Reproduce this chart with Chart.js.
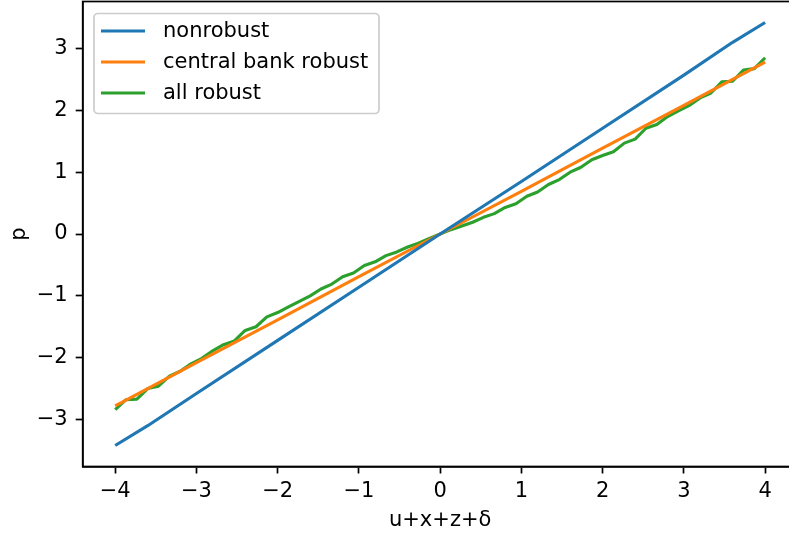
<!DOCTYPE html>
<html>
<head>
<meta charset="utf-8">
<script src="https://cdn.jsdelivr.net/npm/chart.js@4"></script>
<style>
  html, body { margin: 0; padding: 0; background: #fff; overflow: hidden; }
  #wrap { width: 800px; height: 535px; }
</style>
</head>
<body>
<div id="wrap"><canvas id="chart" width="800" height="535"></canvas></div>
<script>
// --- data ---
var gridX = [-4, -3.867, -3.733, -3.6, -3.467, -3.333, -3.2, -3.067, -2.933, -2.8,
  -2.667, -2.533, -2.4, -2.267, -2.133, -2, -1.867, -1.733, -1.6, -1.467,
  -1.333, -1.2, -1.067, -0.933, -0.8, -0.667, -0.533, -0.4, -0.267, -0.133,
  0, 0.133, 0.267, 0.4, 0.533, 0.667, 0.8, 0.933, 1.067, 1.2,
  1.333, 1.467, 1.6, 1.733, 1.867, 2, 2.133, 2.267, 2.4, 2.533,
  2.667, 2.8, 2.933, 3.067, 3.2, 3.333, 3.467, 3.6, 3.733, 3.867, 4];

var allRobust = [-2.84, -2.68, -2.67, -2.50, -2.46, -2.30, -2.22, -2.10, -2.01, -1.89,
  -1.79, -1.73, -1.56, -1.50, -1.34, -1.27, -1.18, -1.09, -1.00, -0.89,
  -0.81, -0.69, -0.63, -0.51, -0.45, -0.35, -0.29, -0.21, -0.15, -0.07,
  0.00, 0.07, 0.13, 0.19, 0.27, 0.33, 0.43, 0.49, 0.61, 0.68,
  0.80, 0.88, 1.00, 1.08, 1.20, 1.27, 1.33, 1.47, 1.535, 1.71,
  1.77, 1.90, 1.99, 2.08, 2.20, 2.28, 2.46, 2.47, 2.65, 2.675, 2.85];

var lineX = [-4, -3.6, -3, -2, -1, 0, 1, 2, 3, 3.6, 4];
var nonrobust = [-3.42, -3.10, -2.58, -1.72, -0.86, 0, 0.85, 1.71, 2.57, 3.10, 3.42];
var centralBankRobust = [-2.78, -2.50, -2.08, -1.39, -0.69, 0, 0.69, 1.39, 2.08, 2.50, 2.78];

var seriesNames = ['nonrobust', 'central bank robust', 'all robust'];
var xTicks = [-4, -3, -2, -1, 0, 1, 2, 3, 4];
var yTicks = [-3, -2, -1, 0, 1, 2, 3];

// --- helpers ---
function pairs(xs, ys) {
  return xs.map(function (x, i) { return { x: x, y: ys[i] }; });
}
function fmt(v) {
  return v < 0 ? '\u2212' + Math.abs(v) : String(v);
}

var FONT = 'DejaVu Sans';
var FS = 21;
var colors = ['#1f77b4', '#ff7f0e', '#2ca02c'];

// full box around the plot (matplotlib spines)
var frame = {
  id: 'frame',
  afterDraw: function (chart) {
    var a = chart.chartArea, c = chart.ctx;
    c.save();
    c.strokeStyle = '#000';
    c.lineWidth = 1.7;
    c.strokeRect(a.left, a.top, a.right - a.left, a.bottom - a.top);
    c.restore();
  }
};

// legend box in the upper left, drawn like matplotlib's
var legendBox = {
  id: 'legendBox',
  afterDraw: function (chart) {
    var c = chart.ctx;
    var bx = 94, by = 13.5, bw = 285, bh = 100, r = 4;
    c.save();
    c.beginPath();
    c.moveTo(bx + r, by);
    c.arcTo(bx + bw, by, bx + bw, by + bh, r);
    c.arcTo(bx + bw, by + bh, bx, by + bh, r);
    c.arcTo(bx, by + bh, bx, by, r);
    c.arcTo(bx, by, bx + bw, by, r);
    c.closePath();
    c.fillStyle = 'rgba(255,255,255,0.8)';
    c.fill();
    c.strokeStyle = '#cccccc';
    c.lineWidth = 1.7;
    c.stroke();
    c.font = FS + 'px "' + FONT + '"';
    c.textBaseline = 'middle';
    c.fillStyle = '#000';
    chart.data.datasets.forEach(function (ds, i) {
      var y = 31 + i * 31;
      c.strokeStyle = ds.borderColor;
      c.lineWidth = 3.1;
      c.beginPath();
      c.moveTo(101, y);
      c.lineTo(145, y);
      c.stroke();
      c.fillText(ds.label, 163, y + 1);
    });
    c.restore();
  }
};

var ds = function (label, data, color) {
  return {
    label: label, data: data, borderColor: color, backgroundColor: color,
    borderWidth: 3.1, pointRadius: 0, tension: 0, fill: false,
    borderCapStyle: 'butt', borderJoinStyle: 'round'
  };
};

new Chart(document.getElementById('chart'), {
  type: 'line',
  data: {
    datasets: [
      ds(seriesNames[0], pairs(lineX, nonrobust), colors[0]),
      ds(seriesNames[1], pairs(lineX, centralBankRobust), colors[1]),
      ds(seriesNames[2], pairs(gridX, allRobust), colors[2])
    ]
  },
  options: {
    responsive: false,
    devicePixelRatio: 1,
    animation: false,
    layout: { padding: { top: 1.5, right: 2.4, left: 0, bottom: 0 } },
    plugins: { legend: { display: false }, tooltip: { enabled: false } },
    scales: {
      x: {
        type: 'linear', min: -4.4, max: 4.4,
        afterBuildTicks: function (s) { s.ticks = xTicks.map(function (v) { return { value: v }; }); },
        afterFit: function (s) { s.height = 68.5; s.paddingLeft = 0; s.paddingRight = 0; },
        grid: { drawOnChartArea: false, drawTicks: true, tickLength: 7, color: '#000', tickWidth: 1.7 },
        border: { display: true, color: '#000', width: 1.7 },
        ticks: {
          color: '#000', padding: 5, maxRotation: 0, autoSkip: false,
          font: { family: FONT, size: FS },
          callback: function (v) { return fmt(v); }
        },
        title: {
          display: true, text: 'u+x+z+\u03b4', color: '#000',
          font: { family: FONT, size: FS }, padding: 2
        }
      },
      y: {
        type: 'linear', min: -3.76, max: 3.76,
        afterBuildTicks: function (s) { s.ticks = yTicks.map(function (v) { return { value: v }; }); },
        afterFit: function (s) { s.width = 82.7; s.paddingTop = 0; s.paddingBottom = 0; },
        grid: { drawOnChartArea: false, drawTicks: true, tickLength: 7, color: '#000', tickWidth: 1.7 },
        border: { display: true, color: '#000', width: 1.7 },
        ticks: {
          color: '#000', padding: 8, autoSkip: false,
          font: { family: FONT, size: FS },
          callback: function (v) { return fmt(v); }
        },
        title: {
          display: true, text: 'p', color: '#000',
          font: { family: FONT, size: FS }, padding: 7
        }
      }
    }
  },
  plugins: [frame, legendBox]
});
</script>
</body>
</html>
